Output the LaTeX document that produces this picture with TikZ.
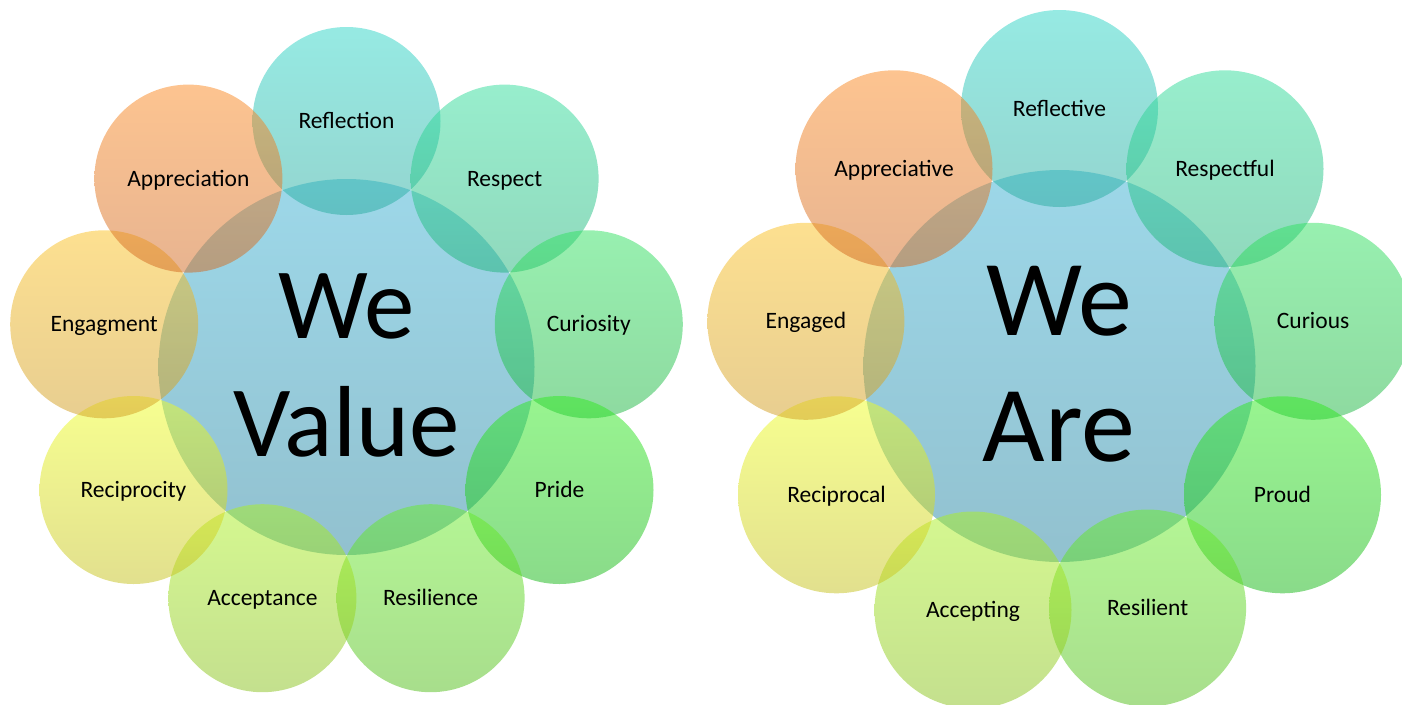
\documentclass[tikz,border=0pt]{standalone}
\usepackage{fontspec}
\setmainfont{Carlito}
\definecolor{cenT}{RGB}{59,177,211}\definecolor{cenB}{RGB}{37,131,159}
\definecolor{refT}{RGB}{45,213,199}\definecolor{refB}{RGB}{41,171,159}
\definecolor{resT}{RGB}{49,221,155}\definecolor{resB}{RGB}{33,179,123}
\definecolor{curT}{RGB}{49,225,97}\definecolor{curB}{RGB}{29,181,65}
\definecolor{priT}{RGB}{49,235,33}\definecolor{priB}{RGB}{21,183,21}
\definecolor{rslT}{RGB}{105,237,43}\definecolor{rslB}{RGB}{81,189,25}
\definecolor{accT}{RGB}{171,241,33}\definecolor{accB}{RGB}{137,193,29}
\definecolor{recT}{RGB}{239,255,33}\definecolor{recB}{RGB}{197,193,29}
\definecolor{engT}{RGB}{251,193,33}\definecolor{engB}{RGB}{209,157,33}
\definecolor{appT}{RGB}{251,137,33}\definecolor{appB}{RGB}{209,105,33}
\tikzset{
  disc/.style 2 args={circle, inner sep=0pt, draw=none, top color=#1, bottom color=#2, fill opacity=0.5},
  word/.style={font=\fontsize{23.5}{28}\selectfont, text=black, inner sep=0pt, anchor=base, yshift=-7.5pt},
  bigL/.style={font=\fontsize{101}{101}\selectfont, text=black, inner sep=0pt, anchor=base},
  bigR/.style={font=\fontsize{108}{108}\selectfont, text=black, inner sep=0pt, anchor=base}
}
\begin{document}
\begin{tikzpicture}[x=1pt,y=-1pt]
\useasboundingbox (0,0) rectangle (1402,704);
% ---------- left diagram ----------
\node[disc={cenT}{cenB}, minimum size=376pt] (LC) at (346.5,367) {};
\node[disc={refT}{refB}, minimum size=188pt] (L0) at (346.5,121) {};
\node[disc={resT}{resB}, minimum size=188pt] (L1) at (504.6,178.6) {};
\node[disc={curT}{curB}, minimum size=188pt] (L2) at (588.8,324.3) {};
\node[disc={priT}{priB}, minimum size=188pt] (L3) at (559.5,490) {};
\node[disc={rslT}{rslB}, minimum size=188pt] (L4) at (430.6,598.2) {};
\node[disc={accT}{accB}, minimum size=188pt] (L5) at (262.4,598.2) {};
\node[disc={recT}{recB}, minimum size=188pt] (L6) at (133.5,490) {};
\node[disc={engT}{engB}, minimum size=188pt] (L7) at (104.2,324.3) {};
\node[disc={appT}{appB}, minimum size=188pt] (L8) at (188.4,178.6) {};
\node[word] (tL0) at (L0) {Reflection};
\node[word] (tL1) at (L1) {Respect};
\node[word] (tL2) at (L2) {Curiosity};
\node[word] (tL3) at (L3) {Pride};
\node[word] (tL4) at (L4) {Resilience};
\node[word] (tL5) at (L5) {Acceptance};
\node[word] (tL6) at (L6) {Reciprocity};
\node[word] (tL7) at (L7) {Engagment};
\node[word] (tL8) at (L8) {Appreciation};
\node[bigL] (tLa) at (346.5,338) {We};
\node[bigL] (tLb) at (346.5,456) {Value};
% ---------- right diagram ----------
\node[disc={cenT}{cenB}, minimum size=392pt] (RC) at (1059.5,366) {};
\node[disc={refT}{refB}, minimum size=197pt] (R0) at (1059.5,108.5) {};
\node[disc={resT}{resB}, minimum size=197pt] (R1) at (1225,168.8) {};
\node[disc={curT}{curB}, minimum size=197pt] (R2) at (1313.1,321.3) {};
\node[disc={priT}{priB}, minimum size=197pt] (R3) at (1282.5,494.8) {};
\node[disc={rslT}{rslB}, minimum size=197pt] (R4) at (1147.6,608) {};
\node[disc={accT}{accB}, minimum size=197pt] (R5) at (973,610) {};
\node[disc={recT}{recB}, minimum size=197pt] (R6) at (836.5,494.8) {};
\node[disc={engT}{engB}, minimum size=197pt] (R7) at (805.9,321.3) {};
\node[disc={appT}{appB}, minimum size=197pt] (R8) at (894,168.8) {};
\node[word] (tR0) at (R0) {Reflective};
\node[word] (tR1) at (R1) {Respectful};
\node[word] (tR2) at (R2) {Curious};
\node[word] (tR3) at (R3) {Proud};
\node[word] (tR4) at (R4) {Resilient};
\node[word] (tR5) at (R5) {Accepting};
\node[word] (tR6) at (R6) {Reciprocal};
\node[word] (tR7) at (R7) {Engaged};
\node[word] (tR8) at (R8) {Appreciative};
\node[bigR] (tRa) at (1059.5,335) {We};
\node[bigR] (tRb) at (1059,461) {Are};
\end{tikzpicture}
\end{document}
